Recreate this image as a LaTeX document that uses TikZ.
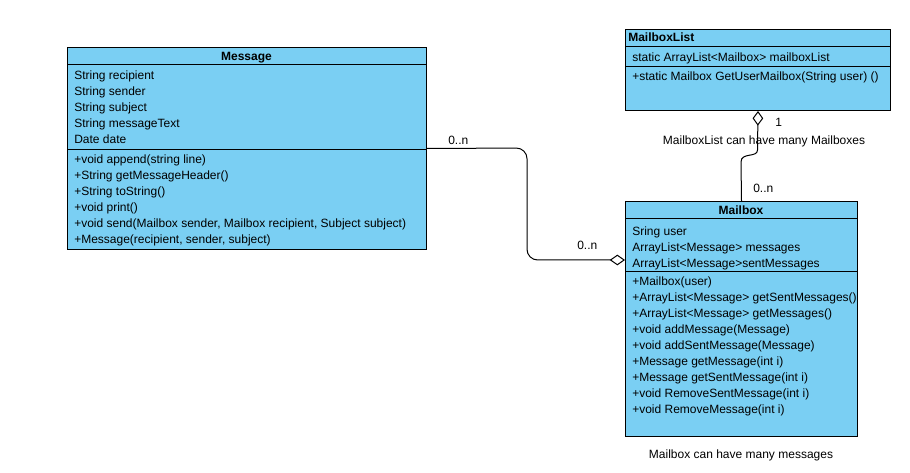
\documentclass[tikz,border=0pt]{standalone}
\usepackage{fontspec}
\setmainfont{Liberation Sans}
\usetikzlibrary{arrows.meta}
\definecolor{umlblue}{RGB}{122,207,243}
\begin{document}
\begin{tikzpicture}[x=0.75pt,y=-0.75pt,
  box/.style={draw=black, fill=umlblue, line width=0.75pt, anchor=north west, inner sep=0pt},
  txt/.style={anchor=base west, inner sep=0pt, font=\fontsize{9}{11}\selectfont},
  ttl/.style={anchor=base, inner sep=0pt, font=\fontsize{9}{11}\selectfont\bfseries},
  sep/.style={line width=0.75pt},
  conn/.style={draw=black, line width=0.75pt}]
\useasboundingbox (0,0) rectangle (910,473);
% Message
\node[box, minimum width=359*0.75pt, minimum height=202*0.75pt] (msg) at (67,47) {};
\draw[sep] (67,65) -- (426,65);
\draw[sep] (67,150) -- (426,150);
\node[ttl] (msgT) at (246.5,60.5) {Message};
\node[txt] (m1) at (74,79.5) {String recipient};
\node[txt] (m2) at (74,95.5) {String sender};
\node[txt] (m3) at (74,111.5) {String subject};
\node[txt] (m4) at (74,127.5) {String messageText};
\node[txt] (m5) at (74,144) {Date date};
\node[txt] (m6) at (74,163.5) {+void append(string line)};
\node[txt] (m7) at (74,179.5) {+String getMessageHeader()};
\node[txt] (m8) at (74,195.5) {+String toString()};
\node[txt] (m9) at (74,211.5) {+void print()};
\node[txt] (m10) at (74,227.5) {+void send(Mailbox sender, Mailbox recipient, Subject subject)};
\node[txt] (m11) at (74,243.5) {+Message(recipient, sender, subject)};
% MailboxList
\node[box, minimum width=265*0.75pt, minimum height=81*0.75pt] (mbl) at (625,29) {};
\draw[sep] (625,47) -- (890,47);
\draw[sep] (625,67) -- (890,67);
\node[ttl, anchor=base west] (mblT) at (628,42) {MailboxList};
\node[txt] (l1) at (632,61.5) {static ArrayList<Mailbox> mailboxList};
\node[txt] (l2) at (632,80.5) {+static Mailbox GetUserMailbox(String user) ()};
% Mailbox
\node[box, minimum width=232*0.75pt, minimum height=235*0.75pt] (mb) at (625,201) {};
\draw[sep] (625,219) -- (857,219);
\draw[sep] (625,272) -- (857,272);
\node[ttl] (mbT) at (741,214.5) {Mailbox};
\node[txt] (b1) at (632,235.5) {Sring user};
\node[txt] (b2) at (632,251.5) {ArrayList<Message> messages};
\node[txt] (b3) at (632,267.5) {ArrayList<Message>sentMessages};
\node[txt] (b4) at (632,285.5) {+Mailbox(user)};
\node[txt] (b5) at (632,301.5) {+ArrayList<Message> getSentMessages()};
\node[txt] (b6) at (632,317.5) {+ArrayList<Message> getMessages()};
\node[txt] (b7) at (632,333.5) {+void addMessage(Message)};
\node[txt] (b8) at (632,349.5) {+void addSentMessage(Message)};
\node[txt] (b9) at (632,365.5) {+Message getMessage(int i)};
\node[txt] (b10) at (632,381.5) {+Message getSentMessage(int i)};
\node[txt] (b11) at (632,397.5) {+void RemoveSentMessage(int i)};
\node[txt] (b12) at (632,413.5) {+void RemoveMessage(int i)};
% connectors
\coordinate (mbin) at (625,260);
\draw[conn, rounded corners=8pt, -{Diamond[open,length=11.5pt,width=8pt,fill=white]}] (msg.east) -- (527,148) |- (mbin);
\draw[conn, {Diamond[open,length=11pt,width=8pt,fill=white]}-] (mbl.south) -- (757.5,150) .. controls (757.5,158) and (741,152) .. (741,162) -- (mb.north);
% labels
\node[txt] (lab1) at (448,144.5) {0..n};
\node[txt] (lab2) at (577,249.5) {0..n};
\node[txt] (lab3) at (775,126.5) {1};
\node[inner sep=0pt, anchor=base, font=\fontsize{9}{11}\selectfont] (lab4) at (764,144.5) {MailboxList can have many Mailboxes};
\node[txt] (lab5) at (753,192.5) {0..n};
\node[inner sep=0pt, anchor=base, font=\fontsize{9}{11}\selectfont] (lab6) at (741,458.5) {Mailbox can have many messages};
\end{tikzpicture}
\end{document}
